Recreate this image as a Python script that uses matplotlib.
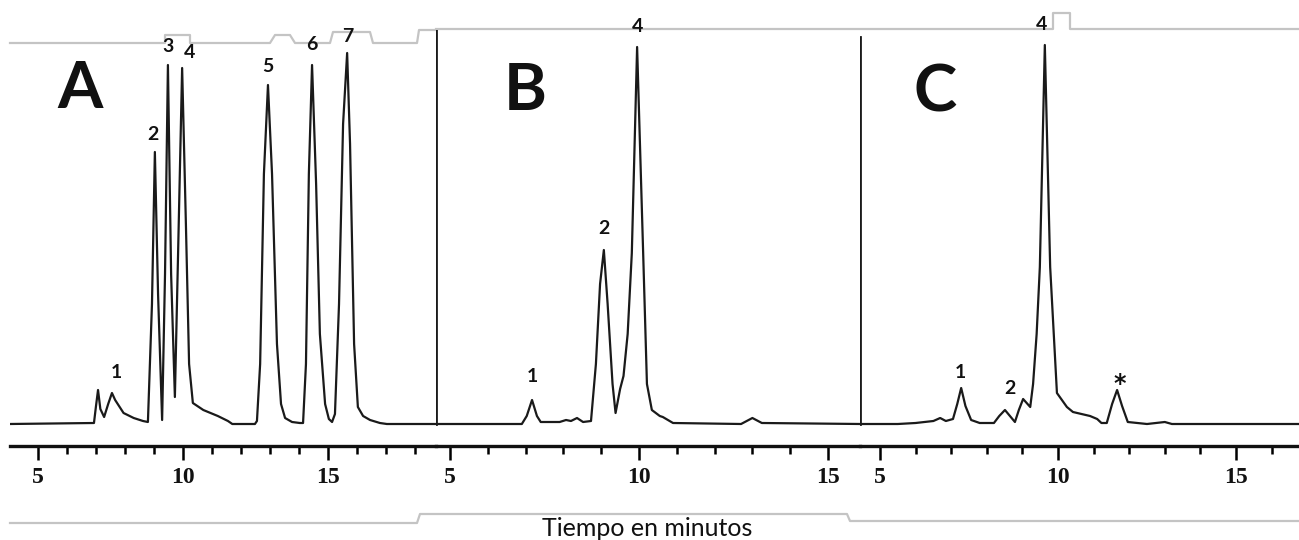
import matplotlib
matplotlib.use('Agg')
import matplotlib.pyplot as plt
from matplotlib.ticker import MultipleLocator, FixedLocator

# ---------------- datos (tiempo en min, señal en u.a.) ----------------
t_a = [4.03, 6.93, 7.00, 7.07, 7.15, 7.28, 7.42, 7.55, 7.66, 7.95, 8.30, 8.62,
       8.79, 8.93, 9.03, 9.14, 9.28, 9.38, 9.48, 9.59, 9.72, 9.83, 9.97, 10.10,
       10.21, 10.34, 10.70, 11.20, 11.55, 11.70, 12.48, 12.55, 12.66, 12.79,
       12.93, 13.07, 13.24, 13.38, 13.52, 13.76, 14.03, 14.14, 14.24, 14.34,
       14.45, 14.59, 14.72, 14.90, 15.03, 15.14, 15.24, 15.38, 15.52, 15.66,
       15.76, 15.90, 16.03, 16.21, 16.45, 16.79, 17.03, 18.72]
s_a = [0, 1, 18, 34, 15, 7, 20, 31, 24, 11, 6, 3,
       2, 120, 272, 130, 4, 150, 359, 150, 27, 170, 356, 200,
       60, 21, 14, 8, 3, 0, 0, 3, 60, 250,
       339, 250, 80, 20, 6, 2, 1, 1, 60, 250,
       359, 240, 90, 20, 5, 2, 10, 120, 300, 371,
       280, 80, 17, 8, 4, 1, 0, 0]

t_b = [4.63, 6.90, 7.03, 7.17, 7.30, 7.40, 7.90, 8.07, 8.20, 8.36, 8.52, 8.73,
       8.86, 8.97, 9.07, 9.17, 9.30, 9.38, 9.50, 9.59, 9.70, 9.81, 9.95, 10.11,
       10.21, 10.34, 10.55, 10.63, 10.90, 12.70, 13.00, 13.25, 15.85]
s_b = [0, 0, 8, 24, 8, 2, 2, 4, 3, 6, 2, 3,
       60, 140, 174, 120, 40, 11, 35, 48, 90, 171, 377, 171,
       40, 14, 8, 7, 1, 0, 6, 1, 0]

t_c = [4.44, 5.50, 6.00, 6.50, 6.69, 6.85, 7.05, 7.17, 7.28, 7.40, 7.56, 7.80,
       8.20, 8.35, 8.51, 8.65, 8.79, 8.90, 9.02, 9.22, 9.30, 9.40, 9.49, 9.63,
       9.78, 9.97, 10.25, 10.42, 10.90, 11.10, 11.22, 11.37, 11.52, 11.66, 11.80,
       11.96, 12.50, 13.00, 13.20, 16.77]
s_c = [0, 0, 1, 3, 6, 3, 5, 20, 36, 18, 4, 1,
       1, 8, 14, 8, 2, 14, 25, 17, 40, 90, 157, 379,
       157, 31, 17, 12, 8, 5, 1, 1, 20, 34, 18,
       2, 0, 2, 0, 0]

# etiquetas de picos: (texto, tiempo, señal)
peaks_a = [('1', 7.72, 52), ('2', 8.97, 290), ('3', 9.48, 378), ('4', 10.21, 371),
           ('5', 12.93, 357), ('6', 14.45, 379), ('7', 15.69, 387)]
peaks_b = [('1', 7.17, 47), ('2', 9.07, 196), ('4', 9.97, 397)]
peaks_c = [('1', 7.25, 52), ('2', 8.65, 35), ('4', 9.55, 399)]

plt.rcParams['font.family'] = ['Lato', 'DejaVu Sans']

W, H = 1299, 540
fig = plt.figure(figsize=(W / 100, H / 100), dpi=100, facecolor='white')

# marco gris de fondo (en píxeles)
deco = fig.add_axes([0, 0, 1, 1], zorder=0)
deco.set_xlim(0, W)
deco.set_ylim(H, 0)
deco.axis('off')
GRAY = '#c4c4c4'
deco.plot([10, 165, 165, 190, 190, 270, 275, 290, 295, 330, 333, 370, 373, 417, 419, 436],
          [43, 43, 35, 35, 43, 43, 35, 35, 43, 43, 32, 32, 43, 43, 30, 30], color=GRAY, lw=1.6)
deco.plot([436, 1053, 1053, 1070, 1070, W], [29, 29, 13, 13, 29, 29], color=GRAY, lw=1.6)
deco.plot([10, 417, 420, 847, 850, W], [523, 523, 514, 514, 521, 521], color=GRAY, lw=1.6)

BOT, TOP = 446, 30
YLIM = (-(BOT - 424), 424 - TOP)
panels = [
    # (x izq px, x der px, x de 5 min (px), px/min, t, s, etiquetas, letra, pos letra, tope línea vertical)
    (10, 436, 38, 29.0, t_a, s_a, peaks_a, 'A', (6.45, 334), None),
    (436, 860, 450, 37.8, t_b, s_b, peaks_b, 'B', (6.98, 332), TOP),
    (860, W, 880, 35.6, t_c, s_c, peaks_c, 'C', (6.55, 331), 37),
]

LINE = '#1a1a1a'
for x0, x1, x5, ppm, tt, ss, pk, letter, lpos, vtop in panels:
    ax = fig.add_axes([x0 / W, 1 - BOT / H, (x1 - x0) / W, (BOT - TOP) / H], zorder=1)
    ax.patch.set_alpha(0)
    ax.set_xlim(5 - (x5 - x0) / ppm, 5 + (x1 - x5) / ppm)
    ax.set_ylim(*YLIM)
    ax.plot(tt, ss, color=LINE, lw=1.6, solid_joinstyle='round')
    for sp in ['top', 'right', 'left']:
        ax.spines[sp].set_visible(False)
    ax.spines['bottom'].set_linewidth(2.4)
    ax.spines['bottom'].set_color('#111111')
    if vtop is not None:
        ax.axvline(ax.get_xlim()[0], ymin=(BOT - 424) / (BOT - TOP),
                   ymax=(BOT - vtop) / (BOT - TOP), color=LINE, lw=2.0)
    ax.xaxis.set_major_locator(FixedLocator([5, 10, 15]))
    ax.xaxis.set_minor_locator(MultipleLocator(1))
    ax.tick_params(axis='x', which='major', length=10, width=1.8, pad=5,
                   labelsize=17, labelcolor='#111111')
    ax.tick_params(axis='x', which='minor', length=5.5, width=1.8)
    for lab in ax.get_xticklabels():
        lab.set_family('Liberation Serif')
        lab.set_fontweight('bold')
    ax.set_yticks([])
    ax.text(lpos[0], lpos[1], letter, fontsize=47, fontweight='bold', ha='center',
            va='center', color='#111111')
    for txt, x, y in pk:
        ax.text(x, y, txt, fontsize=14, fontweight='bold', ha='center', va='center',
                color='#111111', clip_on=False)
    if letter == 'C':
        ax.text(11.74, 40, '*', fontsize=17, fontweight='bold', ha='center', va='center',
                color='#111111', family='DejaVu Sans')

fig.text(647 / W, 1 - 528 / H, 'Tiempo en minutos', fontsize=18, ha='center', va='center',
         color='#111111')

fig.savefig('out.png', dpi=100, facecolor='white')
